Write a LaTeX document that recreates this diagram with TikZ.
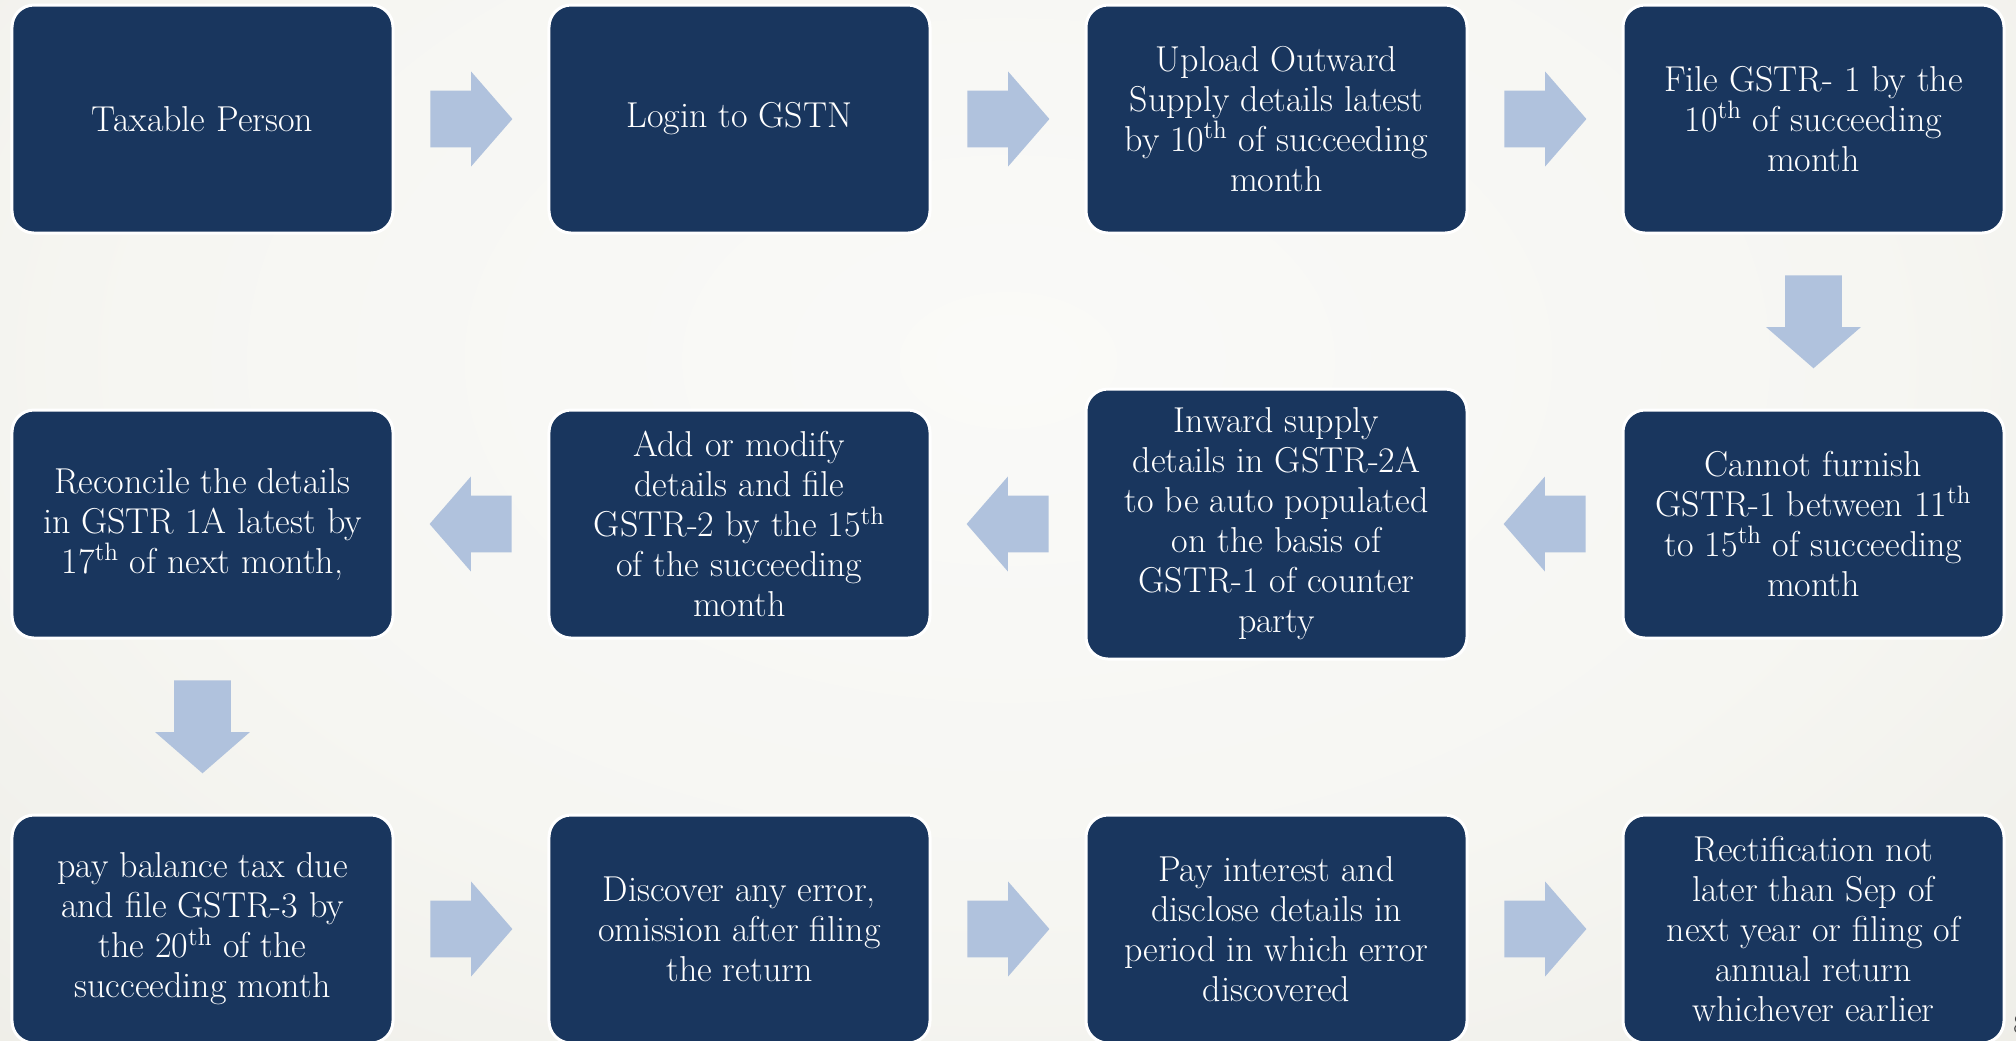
\documentclass[tikz,border=0pt]{standalone}
\usepackage{fontspec}
\usetikzlibrary{matrix,shapes.arrows}
\definecolor{boxblue}{HTML}{19365E}
\definecolor{arrowblue}{HTML}{B0C2DD}
\definecolor{bglight}{HTML}{FAFAF8}
\definecolor{bgpale}{HTML}{F6F6F2}
\definecolor{bgmid}{HTML}{E9E8E1}
\definecolor{bgdark}{HTML}{D5D2C2}
\pgfdeclareradialshading{slidebg}{\pgfpoint{0bp}{0bp}}{color(0bp)=(bglight); color(18bp)=(bgpale); color(40bp)=(bgmid); color(58bp)=(bgdark); color(100bp)=(bgdark)}

\begin{document}
\begin{tikzpicture}[
    stepbox/.style={rectangle, rounded corners=11pt, fill=boxblue, draw=white, line width=1.5pt,
      text=white, align=center, anchor=center, minimum width=190.5pt, minimum height=114pt,
      inner sep=0pt, font=\fontsize{18}{20}\selectfont},
    tallbox/.style={stepbox, minimum height=135pt},
    fatarrow/.style={single arrow, fill=arrowblue, draw=none, text height=0pt, text depth=0pt,
      minimum height=41pt, single arrow head extend=9.5pt, single arrow tip angle=98,
      anchor=tail, pos=0.232},
    rarrow/.style={fatarrow, inner xsep=0pt, inner ysep=14pt},
    larrow/.style={fatarrow, inner xsep=0pt, inner ysep=14pt, shape border rotate=180},
    darrow/.style={fatarrow, inner xsep=14pt, inner ysep=0pt, minimum height=46.5pt, shape border rotate=270}]
  \useasboundingbox (0,0) rectangle (1008pt,-520pt);
  \clip (0,0) rectangle (1008pt,-520pt);
  \shade[shading=slidebg] (-100pt,200pt) rectangle (1108pt,-560pt);
  \matrix (flow) [ampersand replacement=\&, column sep=76.5pt, row sep=76.5pt] at (504pt,-262pt) {
    \node[stepbox] (taxable) {Taxable Person}; \&
    \node[stepbox] (login) {Login to GSTN}; \&
    \node[stepbox] (upload) {Upload Outward\\Supply details latest\\by 10\textsuperscript{th} of succeeding\\month}; \&
    \node[stepbox] (gstr1) {File GSTR- 1 by the\\10\textsuperscript{th} of succeeding\\month}; \\
    \node[stepbox] (reconcile) {Reconcile the details\\in GSTR 1A latest by\\17\textsuperscript{th} of next month,}; \&
    \node[stepbox] (modify) {Add or modify\\details and file\\GSTR-2 by the 15\textsuperscript{th}\\of the succeeding\\month}; \&
    \node[tallbox] (inward) {Inward supply\\details in GSTR-2A\\to be auto populated\\on the basis of\\GSTR-1 of counter\\party}; \&
    \node[stepbox] (furnish) {Cannot furnish\\GSTR-1 between 11\textsuperscript{th}\\to 15\textsuperscript{th} of succeeding\\month}; \\
    \node[stepbox] (gstr3) {pay balance tax due\\and file GSTR-3 by\\the 20\textsuperscript{th} of the\\succeeding month}; \&
    \node[stepbox] (error) {Discover any error,\\omission after filing\\the return}; \&
    \node[stepbox] (interest) {Pay interest and\\disclose details in\\period in which error\\discovered}; \&
    \node[stepbox] (rectify) {Rectification not\\later than Sep of\\next year or filing of\\annual return\\whichever earlier}; \\
  };
  \path (taxable) -- node[rarrow]{} (login);
  \path (login) -- node[rarrow]{} (upload);
  \path (upload) -- node[rarrow]{} (gstr1);
  \path (gstr1) -- node[darrow]{} (furnish);
  \path (furnish) -- node[larrow]{} (inward);
  \path (inward) -- node[larrow]{} (modify);
  \path (modify) -- node[larrow]{} (reconcile);
  \path (reconcile) -- node[darrow]{} (gstr3);
  \path (gstr3) -- node[rarrow]{} (error);
  \path (error) -- node[rarrow]{} (interest);
  \path (interest) -- node[rarrow]{} (rectify);
  \node[anchor=west, text=black!75, font=\fontsize{14}{16}\selectfont] (pageno) at (1003pt,-512pt) {8};
\end{tikzpicture}
\end{document}
